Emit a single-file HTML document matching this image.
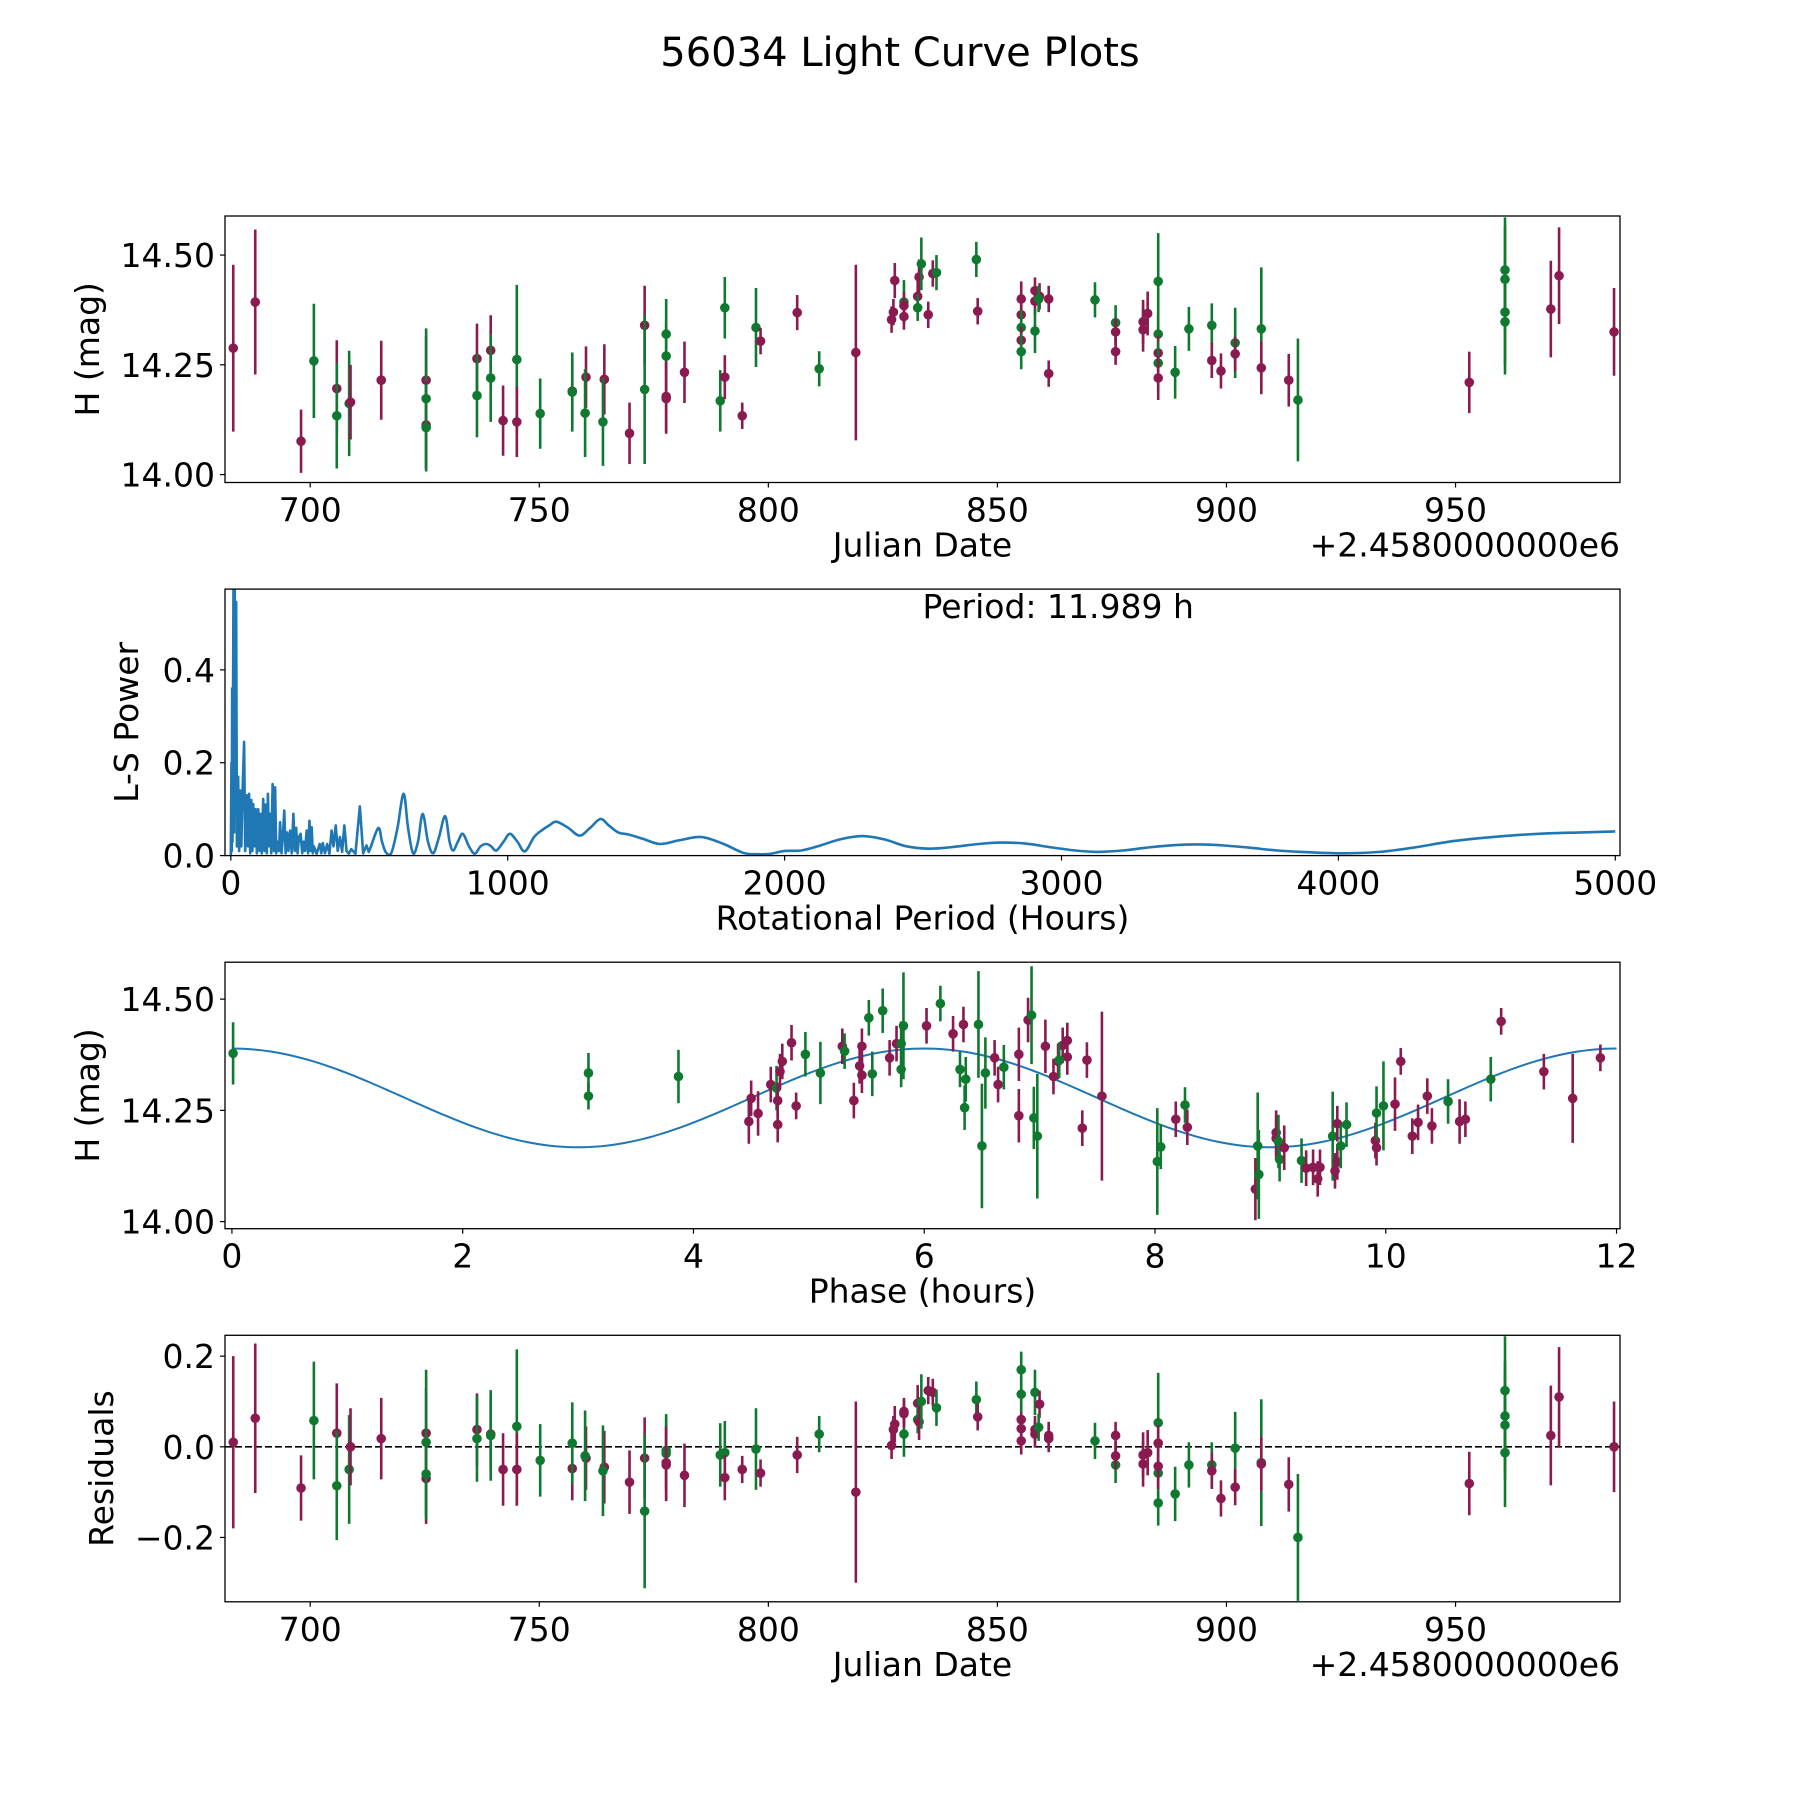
<!DOCTYPE html>
<html><head><meta charset="utf-8">
<style>
html,body{margin:0;padding:0;background:#fff;}
svg{display:block;font-family:"DejaVu Sans","Liberation Sans",sans-serif;}
</style></head>
<body>
<svg id="fig" xmlns="http://www.w3.org/2000/svg" width="1800" height="1800" viewBox="0 0 1800 1800">
<rect width="1800" height="1800" fill="#fff"/>
<text x="900" y="66" font-size="40" text-anchor="middle">56034 Light Curve Plots</text>
</svg>
<script>
// ---- data: light curve (shared by top panel & residuals) ----
const jd = [683.2,688.0,698.0,700.8,705.8,705.8,708.5,708.8,715.5,725.3,725.3,725.3,725.3,736.4,736.4,739.4,739.4,742.1,745.1,745.1,750.2,757.2,757.2,760.2,760.0,764.2,763.9,769.7,773.0,773.0,777.7,777.7,777.7,777.7,781.7,789.5,790.5,790.5,794.3,797.3,798.3,806.3,811.1,819.1,826.9,827.3,827.6,829.6,829.6,829.6,832.6,832.6,832.9,833.4,834.9,835.9,836.7,845.4,845.7,855.2,855.2,855.2,855.2,855.2,858.2,858.2,858.2,859.2,859.0,861.2,861.2,871.3,875.8,875.8,875.8,881.8,881.8,882.8,885.1,885.1,885.1,885.1,885.1,888.8,891.8,896.8,896.8,898.8,901.9,901.9,907.6,907.6,913.6,915.6,953.0,960.8,960.8,960.8,960.8,970.8,972.6,984.6];
const mag = [14.288,14.393,14.076,14.259,14.196,14.134,14.162,14.165,14.215,14.215,14.173,14.113,14.107,14.264,14.18,14.283,14.22,14.123,14.262,14.12,14.139,14.19,14.188,14.222,14.14,14.217,14.12,14.094,14.34,14.194,14.32,14.27,14.178,14.173,14.233,14.168,14.38,14.222,14.134,14.335,14.304,14.369,14.241,14.278,14.353,14.37,14.442,14.393,14.385,14.36,14.406,14.38,14.45,14.48,14.364,14.458,14.46,14.49,14.372,14.4,14.364,14.335,14.306,14.28,14.419,14.395,14.327,14.406,14.4,14.4,14.23,14.398,14.346,14.325,14.28,14.348,14.33,14.367,14.44,14.32,14.277,14.254,14.22,14.233,14.332,14.34,14.26,14.236,14.3,14.275,14.332,14.243,14.215,14.17,14.21,14.466,14.445,14.37,14.348,14.377,14.453,14.325];
const magErr = [0.19,0.165,0.072,0.13,0.11,0.12,0.12,0.085,0.09,0.1,0.16,0.1,0.1,0.08,0.095,0.08,0.1,0.08,0.17,0.08,0.08,0.07,0.09,0.07,0.1,0.08,0.1,0.07,0.09,0.17,0.08,0.08,0.08,0.08,0.07,0.07,0.07,0.05,0.03,0.09,0.03,0.04,0.04,0.2,0.03,0.03,0.04,0.05,0.03,0.03,0.04,0.03,0.04,0.06,0.03,0.03,0.04,0.04,0.03,0.04,0.03,0.04,0.03,0.04,0.03,0.03,0.05,0.03,0.03,0.03,0.03,0.04,0.04,0.03,0.03,0.05,0.05,0.05,0.11,0.05,0.04,0.05,0.05,0.06,0.05,0.05,0.04,0.04,0.08,0.04,0.14,0.06,0.06,0.14,0.07,0.12,0.12,0.12,0.12,0.11,0.11,0.1];
const band = ["p","p","p","g","p","g","g","p","p","p", "g","p","g","p","g","p","g","p","g","p", "g","p","g","p","g","p","g","p","p","g", "g","g","p","p","p","g","g","p","p","g", "p","p","g","p","p","p","p","g","p","p", "p","g","p","g","p","p","g","g","p","p", "p","g","p","g","p","p","g","p","g","p", "p","g","g","p","p","p","p","p","g","g", "p","g","p","g","g","g","p","p","g","p", "g","p","p","g","p","g","g","g","g","p", "p","p"];
const resid = [0.01,0.063,-0.091,0.058,0.03,-0.086,-0.05,0.0,0.018,0.03,0.01,-0.07,-0.06,0.038,0.018,0.028,0.025,-0.05,0.045,-0.05,-0.03,-0.048,0.008,-0.025,-0.02,-0.045,-0.053,-0.078,-0.025,-0.142,-0.008,-0.015,-0.035,-0.04,-0.063,-0.018,-0.013,-0.068,-0.05,-0.005,-0.058,-0.018,0.028,-0.1,0.003,0.038,0.05,0.028,0.078,0.073,0.096,0.06,0.055,0.1,0.124,0.12,0.086,0.104,0.066,0.06,0.04,0.17,0.013,0.116,0.028,0.038,0.12,0.094,0.043,0.025,0.018,0.013,-0.04,0.025,-0.02,-0.038,-0.018,-0.013,0.053,-0.124,0.008,-0.058,-0.043,-0.104,-0.04,-0.04,-0.053,-0.114,-0.003,-0.089,-0.035,-0.038,-0.083,-0.2,-0.081,0.124,0.068,0.048,-0.013,0.025,0.11,0.0];
// ---- data: periodogram ----
const lsPeriod = [0,2.4,3.5,4.8,6,9.6,12,14,17,19.3, 22,26.5,30,34,38,42,48,52,57,62, 66,70,74,78,81,86,90,94,99,104, 108,112,117,122,126,130,134,138,142,146, 151,156,160,164,169,174,178,183,188,193, 198,203,208,214,220,226,231,236,241,246, 252,258,263,268,274,279,284,288,292,296, 300,310,321,327,332,340,348,356,364,371, 379,386,394,402,410,418,426,435,450,466, 478,490,498,
  532,546,560,580,602,624,640,658,676,693, 712,731,752,774,790,803,820,838,860,881, 902,923,940,959,985,1008,1035,1062,1095,1122, 1150,1176,1218,1260,1298,1335,1365,1399,1440,1489, 1550,1620,1700,1780,1850,1900,1950,2000,2060,2120, 2200,2280,2360,2440,2520,2600,2700,2780,2870,2960, 3050,3130,3220,3320,3420,3500,3580,3680,3780,3900, 4020,4150,4280,4400,4520,4640,4760,4880,5000];
const lsPower = [0,0.2,0.01,0.36,0.03,0.575,0.05,0.575,0.1,0.546, 0.02,0.17,0.01,0.14,0.02,0.13,0.245,0.01,0.13,0.02, 0.133,0.005,0.12,0.01,0.111,0.02,0.1,0.005,0.1,0.01, 0.09,0.005,0.122,0.01,0.11,0.005,0.133,0.02,0.09,0.005, 0.154,0.01,0.147,0.005,0.03,0.01,0.072,0.005,0.04,0.097, 0.005,0.05,0.01,0.054,0.005,0.09,0.01,0.06,0.005,0.04, 0.047,0.005,0.03,0.01,0.054,0.005,0.075,0.01,0.061,0.005, 0.02,0.004,0.025,0.005,0.027,0.005,0.025,0.004,0.054,0.02, 0.065,0.01,0.04,0.008,0.065,0.01,0.004,0.014,0.004,0.106, 0.005,0.022,0.008,
  0.059,0.03,0.007,0.006,0.06,0.133,0.06,0.005,0.03,0.09, 0.03,0.005,0.04,0.085,0.03,0.011,0.03,0.047,0.02,0.004, 0.02,0.025,0.02,0.011,0.03,0.047,0.03,0.009,0.04,0.054, 0.065,0.073,0.06,0.043,0.06,0.079,0.065,0.05,0.045,0.036, 0.025,0.033,0.04,0.025,0.006,0.003,0.004,0.01,0.011,0.02, 0.035,0.042,0.035,0.02,0.015,0.018,0.025,0.028,0.026,0.018, 0.011,0.008,0.011,0.018,0.023,0.024,0.022,0.017,0.011,0.007, 0.005,0.008,0.018,0.03,0.038,0.044,0.048,0.05,0.052];
const smoothFrom = 498;
const bestPeriodLabel = "Period: 11.989 h";
// ---- data: phase-folded ----
const phase = [0.01,3.09,3.09,3.87,4.48,4.50,4.56,4.67,4.72,4.73,4.73,4.75,4.77,4.85,4.89,4.97,5.10,5.29,5.31,5.39,5.44,5.46,5.46,5.52,5.55,5.64,5.70,5.76,5.80,5.80,5.82,6.02,6.14,6.25,6.31,6.34,6.35,6.36,6.47,6.50,6.53,6.61,6.64,6.69,6.82,6.82,6.90,6.93,6.95,6.98,7.05,7.12,7.16,7.20,7.24,7.24,7.17,7.41,7.37,7.54,8.02,8.05,8.18,8.26,8.28,8.87,8.89,8.90,9.05,9.05,9.07,9.08,9.12,9.27,9.31,9.37,9.41,9.43,9.54,9.56,9.58,9.58,9.61,9.66,9.91,9.92,9.92,9.98,10.08,10.13,10.23,10.28,10.36,10.40,10.54,10.64,10.69,10.91,11.0,11.37,11.62,11.86];
const phaseMag = [14.378,14.334,14.282,14.326,14.225,14.277,14.243,14.308,14.30,14.218,14.272,14.337,14.36,14.402,14.26,14.376,14.334,14.394,14.383,14.272,14.35,14.329,14.394,14.458,14.332,14.474,14.368,14.40,14.40,14.342,14.44,14.44,14.49,14.422,14.342,14.443,14.256,14.32,14.443,14.17,14.334,14.368,14.308,14.347,14.376,14.238,14.453,14.464,14.233,14.192,14.394,14.326,14.36,14.396,14.407,14.37,14.363,14.363,14.21,14.282,14.135,14.168,14.23,14.262,14.212,14.073,14.17,14.106,14.187,14.20,14.18,14.14,14.166,14.137,14.12,14.122,14.096,14.122,14.192,14.114,14.22,14.134,14.17,14.218,14.182,14.166,14.244,14.26,14.264,14.36,14.192,14.223,14.282,14.215,14.27,14.225,14.23,14.32,14.45,14.337,14.277,14.368];
const phaseErr = [0.07,0.045,0.03,0.06,0.05,0.04,0.05,0.04,0.05,0.04,0.04,0.04,0.04,0.04,0.03,0.05,0.07,0.04,0.04,0.04,0.04,0.04,0.04,0.04,0.05,0.05,0.04,0.04,0.05,0.04,0.12,0.04,0.04,0.04,0.04,0.04,0.05,0.05,0.12,0.14,0.08,0.04,0.04,0.05,0.06,0.06,0.05,0.11,0.07,0.14,0.06,0.04,0.04,0.04,0.04,0.04,0.04,0.04,0.04,0.19,0.12,0.05,0.04,0.04,0.04,0.07,0.12,0.1,0.05,0.05,0.06,0.05,0.05,0.05,0.04,0.04,0.04,0.04,0.1,0.04,0.04,0.04,0.05,0.05,0.04,0.04,0.06,0.1,0.06,0.03,0.04,0.04,0.04,0.04,0.05,0.05,0.04,0.05,0.03,0.04,0.1,0.03];
const phaseBand = ["g","g","g","g","p","p","p","p","g","p", "p","p","p","p","p","g","g","p","g","p", "p","p","p","g","g","g","p","p","g","g", "g","p","g","p","g","p","g","g","g","g", "g","p","p","g","p","p","p","g","g","g", "p","p","p","p","p","p","g","p","p","p", "g","g","p","g","p","p","g","g","p","p", "g","g","p","g","p","p","p","p","g","p", "p","p","g","g","p","p","g","g","p","p", "p","p","p","p","g","p","p","g","p","p", "p","p"];
const fitMean = 14.278, fitAmp = 0.111, fitPeak = 6.0, foldPeriod = 12;
const modelPhase = [];
for (let i = 0; i <= 240; i++) modelPhase.push(i * 12 / 240);

const NS = "http://www.w3.org/2000/svg";
const svg = document.getElementById("fig");
const COL = {p: "#8a1a4f", g: "#0f7a2f"};
const FS = 33;
function mk(tag, attrs, parent) {
  const e = document.createElementNS(NS, tag);
  for (const k in attrs) e.setAttribute(k, attrs[k]);
  (parent || svg).appendChild(e);
  return e;
}
const L = 225, R = 1620, W = R - L, H = 266.5;
const tops = [216, 589.1, 962.2, 1335.3];
function scale(d0, d1, r0, r1) { return v => r0 + (v - d0) / (d1 - d0) * (r1 - r0); }

function axes(idx, xl, yl, xticks, xfmt, yticks, yfmt, xlabel, ylabel, offset, name, ycx) {
  const T = tops[idx], B = T + H;
  const g = mk("g", {});
  
  
  const sx = scale(xl[0], xl[1], L, R), sy = scale(yl[0], yl[1], B, T);
  const clipId = "clip" + idx;
  const cp = mk("clipPath", {id: clipId}, g);
  mk("rect", {x: L, y: T, width: W, height: H}, cp);
  const plot = mk("g", {"clip-path": "url(#" + clipId + ")"}, g);
  const frame = mk("rect", {x: L, y: T, width: W, height: H, fill: "none", stroke: "#000", "stroke-width": 1.3}, g);
  
  
  xticks.forEach(v => {
    const x = sx(v);
    mk("line", {x1: x, x2: x, y1: B, y2: B + 5, stroke: "#000", "stroke-width": 1.2}, g);
    const t = mk("text", {x: x, y: B + 39, "font-size": FS, "text-anchor": "middle"}, g);
    
    
    t.textContent = xfmt(v);
  });
  yticks.forEach(v => {
    const y = sy(v);
    mk("line", {x1: L - 5, x2: L, y1: y, y2: y, stroke: "#000", "stroke-width": 1.2}, g);
    const t = mk("text", {x: L - 10, y: y + 12, "font-size": FS, "text-anchor": "end"}, g);
    
    
    t.textContent = yfmt(v);
  });
  const xt = mk("text", {x: (L + R) / 2, y: B + 74, "font-size": FS, "text-anchor": "middle"}, g);
  
  
  xt.textContent = xlabel;
  const yt = mk("text", {x: ycx, y: T + H / 2, "font-size": FS, "text-anchor": "middle", transform: "rotate(-90 " + ycx + " " + (T + H / 2) + ")"}, g);
  
  
  yt.textContent = ylabel;
  if (offset) {
    const ot = mk("text", {x: R, y: B + 74, "font-size": FS, "text-anchor": "end"}, g);
    
    
    ot.textContent = offset;
  }
  return {sx, sy, plot};
}
function errpts(ax, xs, ys, es, bs, nameBase) {
  xs.forEach((x, i) => {
    const c = COL[bs[i]] || COL.p;
    const px = ax.sx(x);
    const ln = mk("line", {x1: px, x2: px, y1: ax.sy(ys[i] - es[i]), y2: ax.sy(ys[i] + es[i]), stroke: c, "stroke-width": 2.6}, ax.plot);
    
    
    const ci = mk("circle", {cx: px, cy: ax.sy(ys[i]), r: 4.8, fill: c}, ax.plot);
    
    
  });
}
const jdTicks = [700, 750, 800, 850, 900, 950];
const jdLim = [681.4, 985.9];
const offTxt = "+2.4580000000e6";

// Panel 1
const a1 = axes(0, jdLim, [13.982, 14.589], jdTicks, v => String(v), [14.0, 14.25, 14.5], v => v.toFixed(2), "Julian Date", "H (mag)", offTxt, "light-curve-panel", 99);
errpts(a1, jd, mag, magErr, band, "light-curve");

// Panel 2
const a2 = axes(1, [-21, 5017], [0, 0.574], [0, 1000, 2000, 3000, 4000, 5000], v => String(v), [0, 0.2, 0.4], v => v.toFixed(1), "Rotational Period (Hours)", "L-S Power", null, "periodogram-panel", 138);
const P = lsPeriod.map((p, i) => [a2.sx(p), a2.sy(lsPower[i])]);
let d = "M" + P[0][0].toFixed(2) + "," + P[0][1].toFixed(2);
for (let i = 1; i < P.length; i++) {
  if (lsPeriod[i - 1] >= smoothFrom && i + 1 < P.length) {
    const p0 = P[i - 2] || P[i - 1], p1 = P[i - 1], p2 = P[i], p3 = P[i + 1];
    const c1 = [p1[0] + (p2[0] - p0[0]) / 6, p1[1] + (p2[1] - p0[1]) / 6];
    const c2 = [p2[0] - (p3[0] - p1[0]) / 6, p2[1] - (p3[1] - p1[1]) / 6];
    d += "C" + c1[0].toFixed(2) + "," + c1[1].toFixed(2) + " " + c2[0].toFixed(2) + "," + c2[1].toFixed(2) + " " + p2[0].toFixed(2) + "," + p2[1].toFixed(2);
  } else {
    d += "L" + P[i][0].toFixed(2) + "," + P[i][1].toFixed(2);
  }
}
const pl = mk("path", {d: d, fill: "none", stroke: "#1f77b4", "stroke-width": 2.6, "stroke-linejoin": "round"}, a2.plot);


const pt = mk("text", {x: (L + R) / 2, y: tops[1] + 29, "font-size": FS}, svg);


pt.textContent = bestPeriodLabel;

// Panel 3
const a3 = axes(2, [-0.06, 12.03], [13.984, 14.583], [0, 2, 4, 6, 8, 10, 12], v => String(v), [14.0, 14.25, 14.5], v => v.toFixed(2), "Phase (hours)", "H (mag)", null, "phase-folded-panel", 99);
let dm = "";
modelPhase.forEach((p, i) => {
  const m = fitMean + fitAmp * Math.cos(2 * Math.PI * (p - fitPeak) / (foldPeriod / 2));
  dm += (i ? "L" : "M") + a3.sx(p).toFixed(2) + "," + a3.sy(m).toFixed(2);
});
const ml = mk("path", {d: dm, fill: "none", stroke: "#1f77b4", "stroke-width": 2}, a3.plot);


errpts(a3, phase, phaseMag, phaseErr, phaseBand, "phase");

// Panel 4
const a4 = axes(3, jdLim, [-0.342, 0.246], jdTicks, v => String(v), [-0.2, 0, 0.2], v => (v < 0 ? "\u22120.2" : v.toFixed(1)), "Julian Date", "Residuals", offTxt, "residuals-panel", 113);
const zl = mk("line", {x1: L, x2: R, y1: a4.sy(0), y2: a4.sy(0), stroke: "#000", "stroke-width": 1.6, "stroke-dasharray": "7,3"}, a4.plot);


errpts(a4, jd, resid, magErr, band, "residual");
</script>
</body></html>
